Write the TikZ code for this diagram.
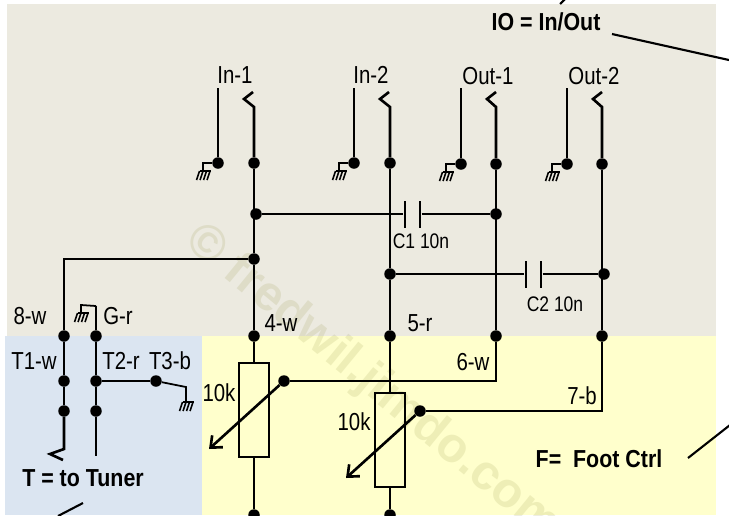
\documentclass[tikz,border=0pt]{standalone}
\usepackage{fontspec}
\setmainfont{Liberation Sans}
\newfontfamily\narrowfont[FakeStretch=0.83]{Liberation Sans}
\newfontfamily\notefont[FakeStretch=0.87]{Liberation Sans}
\usetikzlibrary{arrows.meta}
\usetikzlibrary{positioning}
\definecolor{panelio}{HTML}{ECEAE0}
\definecolor{paneltuner}{HTML}{DBE5F1}
\definecolor{panelfoot}{HTML}{FFFFCC}
\definecolor{stampink}{HTML}{8F8F3C}
\tikzset{
  jdot/.style={circle,fill=black,inner sep=0pt,minimum size=0.23cm},
  wire/.style={draw=black,line width=1.5pt},
  thinwire/.style={draw=black,line width=1.2pt},
  hairline/.style={draw=black,line width=1pt},
  barbed/.style={-{Straight Barb[length=0.19cm,width=0.32cm]}},
  plate/.style={rectangle,fill=black,inner sep=0pt,minimum width=0.05cm,minimum height=0.54cm},
  potbox/.style={rectangle,draw=black,line width=1pt,fill=none,inner sep=0pt,minimum width=0.6cm,minimum height=1.88cm},
  lab/.style={inner sep=0pt,font=\narrowfont\fontsize{14}{16}\selectfont},
  smalllab/.style={inner sep=0pt,font=\narrowfont\fontsize{12}{14}\selectfont},
  boldlab/.style={inner sep=0pt,font=\notefont\fontsize{14}{16}\selectfont\bfseries},
  gndmark/.pic={
    \draw[line width=0.9pt] (-3.5,0) -- (8,0);
    \draw[line width=0.9pt] (-3.5,0) -- (-6.5,9);
    \draw[line width=0.9pt] (0,0) -- (-3,9);
    \draw[line width=0.9pt] (3.5,0) -- (0.5,9);
    \draw[line width=0.9pt] (7,0) -- (4,9);
  }
}
\begin{document}
\begin{tikzpicture}[x=0.02cm,y=-0.02cm]
\useasboundingbox (0,0) rectangle (729,515);
\fill[panelio] (7,4) rectangle (716,336);
\fill[paneltuner] (5,336) rectangle (202,515);
\fill[panelfoot] (202,336) rectangle (716,515);
\node at (372,383)[rotate=-39.4,inner sep=0pt,opacity=0.15,text=stampink,font=\fontsize{28}{32}\selectfont\bfseries](stamp){© fredwil.jimdo.com};
% jacks on top
\node at (218,163)[jdot](in1g){};
\node at (254,163)[jdot](in1s){};
\node at (354,163)[jdot](in2g){};
\node at (390,163)[jdot](in2s){};
\node at (461,164)[jdot](out1g){};
\node at (496,164)[jdot](out1s){};
\node at (567,164)[jdot](out2g){};
\node at (602,164)[jdot](out2s){};
\coordinate (in1top) at (218,88);
\coordinate (in2top) at (354,88);
\coordinate (out1top) at (461,88);
\coordinate (out2top) at (567,88);
\coordinate (in1a) at (253,92);
\coordinate (in1b) at (244,99);
\coordinate (in1c) at (254,107);
\coordinate (in2a) at (389,92);
\coordinate (in2b) at (380,99);
\coordinate (in2c) at (390,107);
\coordinate (out1a) at (496,92);
\coordinate (out1b) at (487,99);
\coordinate (out1c) at (496,107);
\coordinate (out2a) at (602,92);
\coordinate (out2b) at (593,99);
\coordinate (out2c) at (602,107);
\draw[wire] (in1top) -- (in1g);
\draw[wire] (in2top) -- (in2g);
\draw[wire] (out1top) -- (out1g);
\draw[wire] (out2top) -- (out2g);
\draw[wire] (in1a) -- (in1b) -- (in1c) -- (in1s);
\draw[wire] (in2a) -- (in2b) -- (in2c) -- (in2s);
\draw[wire] (out1a) -- (out1b) -- (out1c) -- (out1s);
\draw[wire] (out2a) -- (out2b) -- (out2c) -- (out2s);
\node at (235,75)[lab](in1lab){In-1};
\node at (371,75)[lab](in2lab){In-2};
\node at (488,76)[lab](out1lab){Out-1};
\node at (594,76)[lab](out2lab){Out-2};
% grounds of the jacks
\coordinate (in1e) at (203,163);
\coordinate (in2e) at (339,163);
\coordinate (out1e) at (446,164);
\coordinate (out2e) at (552,164);
\coordinate (in1f) at (203,171);
\coordinate (in2f) at (339,171);
\coordinate (out1f) at (446,172);
\coordinate (out2f) at (552,172);
\draw[hairline] (in1g) -- (in1e) -- (in1f);
\draw[hairline] (in2g) -- (in2e) -- (in2f);
\draw[hairline] (out1g) -- (out1e) -- (out1f);
\draw[hairline] (out2g) -- (out2e) -- (out2f);
\pic at (in1f) {gndmark};
\pic at (in2f) {gndmark};
\pic at (out1f) {gndmark};
\pic at (out2f) {gndmark};
% main lines and capacitors
\node at (256,214)[jdot](j1){};
\node at (496,214)[jdot](j2){};
\node at (254,259)[jdot](j3){};
\node at (390,274)[jdot](j4){};
\node at (604,274)[jdot](j5){};
\node at (254,336)[jdot](d4){};
\node at (390,336)[jdot](d5){};
\node at (496,336)[jdot](d6){};
\node at (602,336)[jdot](d7){};
\node at (405,214)[plate](c1l){};
\node at (420,214)[plate](c1r){};
\node at (526,274)[plate](c2l){};
\node at (541,274)[plate](c2r){};
\node at (254,410)[potbox](pot1){};
\node at (390,440)[potbox](pot2){};
\node at (254,515)[jdot](end1){};
\node at (390,515)[jdot](end2){};
\draw[wire] (in1s) -- (j3);
\draw[wire] (j3) -- (d4);
\draw[wire] (d4) -- (pot1.north);
\draw[wire] (pot1.south) -- (end1);
\draw[wire] (in2s) -- (j4);
\draw[wire] (j4) -- (d5);
\draw[wire] (d5) -- (pot2.north);
\draw[wire] (pot2.south) -- (end2);
\draw[wire] (out1s) -- (d6);
\draw[wire] (out2s) -- (d7);
\draw[thinwire] (j1) -- (c1l);
\draw[thinwire] (c1r) -- (j2);
\draw[thinwire] (j4) -- (c2l);
\draw[thinwire] (c2r) -- (j5);
\node at (421,241)[smalllab](c1lab){C1 10n};
\node at (555,304)[smalllab](c2lab){C2 10n};
% pots and wipers
\node at (284,381)[jdot](w1){};
\node at (420,411)[jdot](w2){};
\coordinate (w1tip) at (209,449);
\coordinate (w2tip) at (346,478);
\coordinate (d6b) at (496,381);
\coordinate (d7b) at (602,411);
\draw[wire,barbed] (w1) -- (w1tip);
\draw[wire,barbed] (w2) -- (w2tip);
\draw[thinwire] (w1) -- (d6b) -- (d6);
\draw[thinwire] (w2) -- (d7b) -- (d7);
\node at (219,393)[lab](pot1lab){10k};
\node at (354,422)[lab](pot2lab){10k};
\node at (281,323)[lab](lab4){4-w};
\node at (420,323)[lab](lab5){5-r};
\node at (473,362)[lab](lab6){6-w};
\node at (582,396)[lab](lab7){7-b};
% tuner side
\node at (64,336)[jdot](d8){};
\node at (96,336)[jdot](dg){};
\node at (64,381)[jdot](t1a){};
\node at (64,411)[jdot](t1b){};
\node at (96,381)[jdot](t2a){};
\node at (96,411)[jdot](t2b){};
\node at (156,381)[jdot](t3){};
\coordinate (corner8) at (64,259);
\coordinate (t1c) at (64,449);
\coordinate (t1d) at (50,454);
\coordinate (t1e) at (63,460);
\coordinate (t2end) at (96,456);
\coordinate (gtop) at (96,306);
\coordinate (gbend) at (81,305);
\coordinate (gfoot) at (81,313);
\coordinate (t3bend) at (186,387);
\coordinate (t3foot) at (186,402);
\draw[wire] (j3) -- (corner8) -- (d8);
\draw[wire] (d8) -- (t1a);
\draw[wire] (t1a) -- (t1b);
\draw[wire] (t1b) -- (t1c) -- (t1d) -- (t1e);
\draw[wire] (gtop) -- (dg);
\draw[wire] (dg) -- (t2a);
\draw[wire] (t2a) -- (t2b);
\draw[wire] (t2b) -- (t2end);
\draw[thinwire] (t2a) -- (t3);
\draw[hairline] (t3) -- (t3bend) -- (t3foot);
\draw[hairline] (gtop) -- (gbend) -- (gfoot);
\pic at (gfoot) {gndmark};
\pic at (t3foot) {gndmark};
\node at (30,316)[lab](lab8){8-w};
\node at (118,316)[lab](labg){G-r};
\node at (34,361)[lab](labt1){T1-w};
\node at (121,361)[lab](labt2){T2-r};
\node at (170,361)[lab](labt3){T3-b};
% notes
\node at (546,22)[boldlab](ionote){IO = In/Out};
\node at (83,478)[boldlab](tnote){T = to Tuner};
\node at (599,459)[boldlab](fnote){F=\ \ Foot Ctrl};
\coordinate (ioa) at (612,34);
\coordinate (iob) at (729,60);
\coordinate (ioc) at (560,4);
\coordinate (iod) at (565,-1);
\coordinate (ta) at (58,516);
\coordinate (tb) at (83,503);
\coordinate (fa) at (688,458);
\coordinate (fb) at (730,425);
\draw[thinwire] (ioa) -- (iob);
\draw[thinwire] (ioc) -- (iod);
\draw[thinwire] (ta) -- (tb);
\draw[thinwire] (fa) -- (fb);
\end{tikzpicture}
\end{document}
